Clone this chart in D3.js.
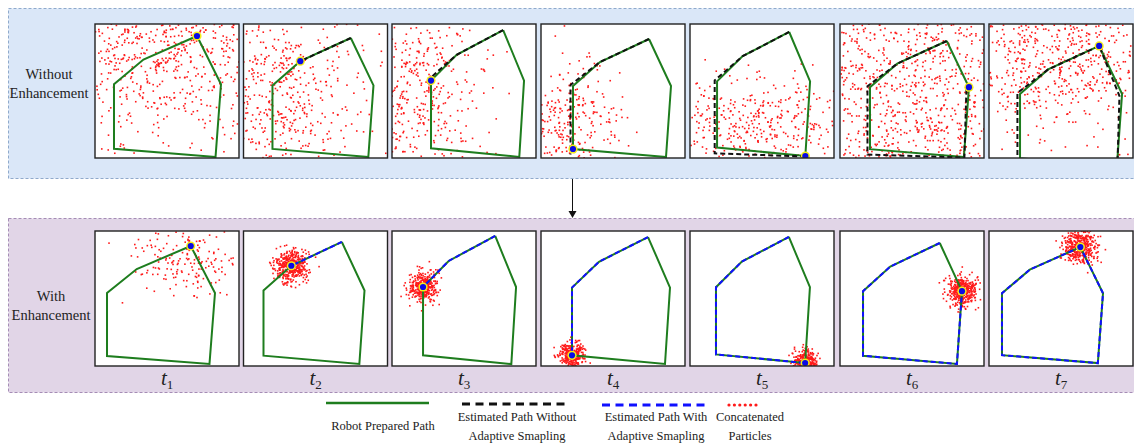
<!DOCTYPE html>
<html><head><meta charset="utf-8">
<script src="https://cdn.jsdelivr.net/npm/d3@7"></script>
<style>body{margin:0;background:#fff}svg{display:block}text{font-family:"Liberation Serif",serif;fill:#222}</style>
</head><body><svg id="c" width="1134" height="444"></svg>
<script>
// ---- data ----
const timeLabels = ["1","2","3","4","5","6","7"];
// robot prepared path vertices (world units), traversal order C,B,A,F,E,D,C
const pathX = [10.8, 5.9, 3.2, 3.2, 12.5, 13.0, 10.8];
const pathY = [11.9, 9.6, 7.2, 0.9, 0.1, 7.2, 11.9];
// robot vertex index at t1..t7
const robotIdx = [0, 1, 2, 3, 4, 5, 6];
// estimated path without adaptive sampling (drifting)
const estX = [10.8, 5.9, 2.95, 2.95, 12.55, 12.75, 10.8];
const estY = [11.9, 9.6, 7.3, 0.35, 0.05, 7.0, 11.9];
// axis limits for each subplot
const topX0 = [1.46, 0.39, -0.91, 0.0, 0.35, 0.23, 0.22];
const topX1 = [14.65, 14.36, 14.26, 14.4, 15.52, 14.49, 14.05];
const topY0 = [0, 0, 0, 0, -0.09, 0, 0.93];
const topY1 = [13.07, 13.29, 12.46, 13.4, 12.66, 13.63, 14.05];
const botX0 = [2.11, 1.26, -0.07, 0.1, 0.49, 0.92, 1.94];
const botX1 = [15.18, 15.23, 15.1, 14.5, 15.51, 15.18, 15.91];
const botY0 = [-0.1, -0.1, -0.08, -0.09, -0.18, -0.1, -0.2];
const botY1 = [13.4, 12.96, 12.36, 12.46, 12.46, 13.07, 13.53];
// particle clouds: centre, spread, count (world units)
const topCx = [8.0, 3.6, 1.72, 2.9, 8.25, 7.4, 6.9];
const topCy = [11.5, 6.0, 5.95, 3.8, 3.15, 6.8, 10.6];
const topSx = [6.0, 4.0, 3.3, 2.5, 5.3, 10, 5.3];
const topSy = [4.8, 5.2, 4.8, 3.3, 2.4, 10, 3.4];
const topN  = [460, 380, 320, 230, 330, 650, 480];
const botCx = [10.2, 5.9, 3.2, 3.2, 12.5, 13.0, 10.8];
const botCy = [10.8, 9.6, 7.2, 0.9, 0.1, 7.2, 11.9];
const botSx = [2.6, 0.8, 0.7, 0.6, 0.6, 0.75, 0.8];
const botSy = [2.0, 0.8, 0.7, 0.6, 0.6, 0.75, 0.8];
const botN  = [170, 420, 380, 330, 260, 420, 420];
const legendLabels = [["Robot Prepared Path"],["Estimated Path Without","Adaptive Smapling"],["Estimated Path With","Adaptive Smapling"],["Concatenated","Particles"]];

// ---- layout ----
const svg = d3.select("#c");
const GREEN = "#1e7d1e", BLUE = "#1010ff", RED = "#ff1a1a";
const panelLeft = [95, 243.5, 392, 541, 690, 840, 989];
const PW = 144;

svg.append("rect").attr("x",8.5).attr("y",8.5).attr("width",1140).attr("height",170)
  .attr("fill","#dae7f8").attr("stroke","#8fa9cc").attr("stroke-dasharray","3,2");
svg.append("rect").attr("x",8.5).attr("y",218.5).attr("width",1140).attr("height",174)
  .attr("fill","#e1d5e7").attr("stroke","#a58cb5").attr("stroke-dasharray","3,2");

function rowLabel(lines, cx, y0){
  lines.forEach((l,i)=>svg.append("text").attr("x",cx).attr("y",y0+i*19).attr("text-anchor","middle")
    .attr("font-size",14.5).text(l));
}
rowLabel(["Without","Enhancement"], 49, 79);
rowLabel(["With","Enhancement"], 51, 301);

// arrow
svg.append("line").attr("x1",572.5).attr("x2",572.5).attr("y1",179).attr("y2",212).attr("stroke","#111").attr("stroke-width",1);
svg.append("path").attr("d","M568.5,211 L576.5,211 L572.5,218 Z").attr("fill","#111");

const line = d3.line().x(d=>d[0]).y(d=>d[1]);

function panel(k, top){
  const px = panelLeft[k], py = top ? 24 : 231, PH = top ? 134 : 135;
  const xs = d3.scaleLinear().domain(top?[topX0[k],topX1[k]]:[botX0[k],botX1[k]]).range([px,px+PW]);
  const ys = d3.scaleLinear().domain(top?[topY0[k],topY1[k]]:[botY0[k],botY1[k]]).range([py+PH,py]);
  const id = "clip"+(top?"t":"b")+k;
  svg.append("clipPath").attr("id",id).append("rect").attr("x",px).attr("y",py).attr("width",PW).attr("height",PH);
  svg.append("rect").attr("x",px).attr("y",py).attr("width",PW).attr("height",PH).attr("fill","#fff");
  const g = svg.append("g").attr("clip-path",`url(#${id})`);
  // particles
  const rng = d3.randomLcg(0.137 + k*0.071 + (top?0:0.5));
  const nx = d3.randomNormal.source(rng)(top?topCx[k]:botCx[k], top?topSx[k]:botSx[k]);
  const ny = d3.randomNormal.source(rng)(top?topCy[k]:botCy[k], top?topSy[k]:botSy[k]);
  const N = top?topN[k]:botN[k];
  const [dx0,dx1] = xs.domain(), [dy0,dy1] = ys.domain();
  const pts = [];
  let guard = 0;
  while(pts.length < N && guard++ < 20000){
    const a = nx(), b = ny();
    if(a>=dx0 && a<=dx1 && b>=dy0 && b<=dy1) pts.push([a,b]);
  }
  g.selectAll("rect.p").data(pts).join("rect").attr("class","p")
    .attr("x",d=>xs(d[0])-0.8).attr("y",d=>ys(d[1])-0.8).attr("width",1.6).attr("height",1.6).attr("fill",RED);
  // prepared path
  const full = pathX.map((x,i)=>[xs(x),ys(pathY[i])]);
  g.append("path").attr("d",line(full)).attr("fill","none").attr("stroke",GREEN).attr("stroke-width",2);
  const r = robotIdx[k];
  if(r>0){
    if(top){
      const est = estX.slice(0,r+1).map((x,i)=>[xs(x),ys(estY[i])]);
      g.append("path").attr("d",line(est)).attr("fill","none").attr("stroke","#111").attr("stroke-width",2).attr("stroke-dasharray","5,3");
    } else {
      g.append("path").attr("d",line(full.slice(0,r+1))).attr("fill","none").attr("stroke",BLUE).attr("stroke-width",2).attr("stroke-dasharray","5,3");
    }
  }
  // robot
  const rx = xs(pathX[r]), ry = ys(pathY[r]);
  g.append("circle").attr("cx",rx).attr("cy",ry).attr("r",4.6).attr("fill","#f5ee1a");
  g.append("circle").attr("cx",rx).attr("cy",ry).attr("r",3.1).attr("fill","#0a0ae6");
  svg.append("rect").attr("x",px).attr("y",py).attr("width",PW).attr("height",PH).attr("fill","none").attr("stroke","#222").attr("stroke-width",1.4);
  if(!top){
    const t = svg.append("text").attr("x",px+PW/2-6).attr("y",385).attr("text-anchor","start");
    t.append("tspan").attr("font-style","italic").attr("font-size",21).text("t");
    t.append("tspan").attr("font-size",13).attr("dy",3.5).text(timeLabels[k]);
  }
}
for(let k=0;k<7;k++){ panel(k,true); panel(k,false); }

// legend
svg.append("line").attr("x1",326).attr("x2",429).attr("y1",403).attr("y2",403).attr("stroke",GREEN).attr("stroke-width",2.6);
svg.append("line").attr("x1",462).attr("x2",570).attr("y1",404).attr("y2",404).attr("stroke","#111").attr("stroke-width",3).attr("stroke-dasharray","8,5.5");
svg.append("line").attr("x1",602).attr("x2",705).attr("y1",405).attr("y2",405).attr("stroke",BLUE).attr("stroke-width",3).attr("stroke-dasharray","8,5.5");
svg.selectAll("circle.ld").data(d3.range(6)).join("circle").attr("class","ld")
  .attr("cx",d=>729+d*5.4).attr("cy",405).attr("r",1.6).attr("fill",RED);
const legX = [383, 517, 656, 750];
const legY = [[430],[421,440],[421,440],[421,440]];
legendLabels.forEach((ls,i)=>ls.forEach((l,j)=>svg.append("text").attr("x",legX[i]).attr("y",legY[i][j])
  .attr("text-anchor","middle").attr("font-size",12.5).text(l)));
</script></body></html>
